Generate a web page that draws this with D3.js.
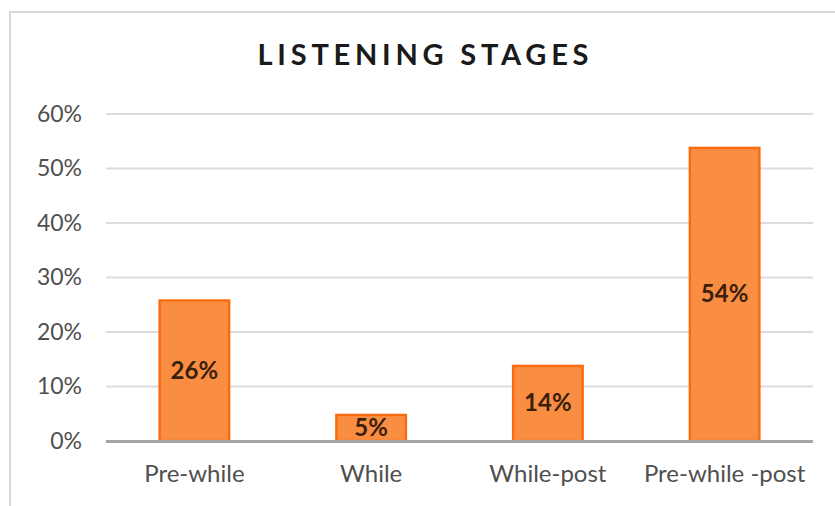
<!DOCTYPE html>
<html>
<head>
<meta charset="utf-8">
<script src="https://cdn.jsdelivr.net/npm/d3@7"></script>
<style>
  html, body { margin: 0; padding: 0; background: #fff; }
  svg { display: block; }
</style>
</head>
<body>
<svg id="chart" width="835" height="506"></svg>
<script>
// Share of respondents by listening stage
const categories = ["Pre-while", "While", "While-post", "Pre-while -post"];
const values = [26, 5, 14, 54];
const yTicks = [0, 10, 20, 30, 40, 50, 60];
const title = "LISTENING STAGES";

const svg = d3.select("#chart");
const W = 835, H = 506;
const plot = { left: 106, right: 813, top: 114, bottom: 441 };

// chart frame
svg.append("rect")
  .attr("x", 10).attr("y", 12)
  .attr("width", W + 10).attr("height", H + 10)
  .attr("fill", "#fff")
  .attr("stroke", "#d9d9d9").attr("stroke-width", 2);

const x = d3.scaleBand()
  .domain(categories)
  .range([plot.left, plot.right])
  .paddingInner(0.593)
  .paddingOuter(0.593 / 2);

const y = d3.scaleLinear()
  .domain([0, 60])
  .range([plot.bottom, plot.top]);

// title
svg.append("text")
  .attr("x", 423).attr("y", 65)
  .attr("text-anchor", "middle")
  .attr("font-family", "Lato, 'Open Sans', sans-serif")
  .attr("font-weight", 700)
  .attr("font-size", 29)
  .attr("fill", "#1a1a1a")
  .attr("textLength", 331)
  .attr("lengthAdjust", "spacing")
  .text(title);

// gridlines
svg.append("g")
  .selectAll("line")
  .data(yTicks.filter(d => d > 0))
  .join("line")
  .attr("x1", plot.left).attr("x2", plot.right)
  .attr("y1", d => y(d)).attr("y2", d => y(d))
  .attr("stroke", "#dcdcdc").attr("stroke-width", 2);

// y axis labels
const yAxis = svg.append("g")
  .attr("transform", `translate(${plot.left - 24},0)`)
  .call(d3.axisLeft(y).tickValues(yTicks).tickFormat(d => d + "%").tickSize(0).tickPadding(0));
yAxis.select(".domain").remove();
yAxis.selectAll("text")
  .attr("font-family", "Lato, 'Open Sans', sans-serif")
  .attr("font-size", 23)
  .attr("fill", "#4f4f4f");

// bars
svg.append("g")
  .selectAll("rect")
  .data(values)
  .join("rect")
  .attr("x", (d, i) => x(categories[i]) + 1.2)
  .attr("width", x.bandwidth() - 2.4)
  .attr("y", d => y(d) + 1.2)
  .attr("height", d => y(0) - y(d) - 1.2)
  .attr("fill", "#f98e42")
  .attr("stroke", "#fa6a0e")
  .attr("stroke-width", 2.4);

// baseline
svg.append("line")
  .attr("x1", plot.left).attr("x2", plot.right)
  .attr("y1", y(0) + 0.5).attr("y2", y(0) + 0.5)
  .attr("stroke", "#a6a6a6").attr("stroke-width", 3);

// value labels
svg.append("g")
  .selectAll("text")
  .data(values)
  .join("text")
  .attr("x", (d, i) => x(categories[i]) + x.bandwidth() / 2)
  .attr("y", d => (y(d) + y(0)) / 2)
  .attr("dy", "0.36em")
  .attr("text-anchor", "middle")
  .attr("font-family", "Lato, 'Open Sans', sans-serif")
  .attr("font-weight", 700)
  .attr("font-size", 24)
  .attr("fill", "#3a200c")
  .text(d => d + "%");

// x axis labels
const xAxis = svg.append("g")
  .attr("transform", `translate(0,${plot.bottom})`)
  .call(d3.axisBottom(x).tickSize(0).tickPadding(0));
xAxis.select(".domain").remove();
xAxis.selectAll("text")
  .attr("y", 41)
  .attr("dy", 0)
  .attr("font-family", "Lato, 'Open Sans', sans-serif")
  .attr("font-size", 24)
  .attr("fill", "#4f4f4f");
</script>
</body>
</html>
